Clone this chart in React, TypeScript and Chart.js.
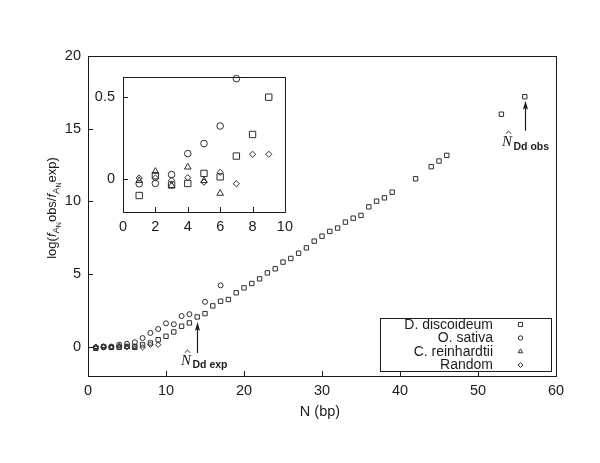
import React, { useEffect, useRef } from 'react';
import { Chart, registerables } from 'chart.js';

Chart.register(...registerables);

// ---------- data ----------
const seriesNames = ['D. discoideum', 'O. sativa', 'C. reinhardtii', 'Random'];

const ddN = [1, 2, 3, 4, 5, 6, 7, 8, 9, 10, 11, 12, 13, 14, 15, 16, 17, 18, 19, 20, 21, 22, 23, 24, 25, 26, 27, 28, 29, 30, 31, 32, 33, 34, 35, 36, 37, 38, 39, 42, 44, 45, 46, 53, 56];
const ddVal = [-0.1, 0.02, -0.036, -0.027, 0.034, 0.013, 0.139, 0.27, 0.496, 0.73, 1.03, 1.42, 1.65, 2.06, 2.29, 2.82, 3.14, 3.26, 3.72, 4.06, 4.36, 4.68, 5.09, 5.37, 5.83, 6.08, 6.44, 6.81, 7.27, 7.61, 7.94, 8.17, 8.58, 8.85, 9.04, 9.63, 10.02, 10.25, 10.64, 11.56, 12.39, 12.78, 13.17, 16.0, 17.2];

const osN = [1, 2, 3, 4, 5, 6, 7, 8, 9, 10, 11, 12, 13, 15, 17];
const osVal = [-0.029, -0.027, 0.027, 0.154, 0.215, 0.321, 0.608, 0.96, 1.23, 1.62, 1.56, 2.12, 2.25, 3.1, 4.23];

const crN = [1, 2, 3, 4, 5, 6];
const crVal = [-0.01, 0.046, -0.04, 0.072, -0.01, -0.087];

const rndN = [1, 2, 3, 4, 5, 6, 7, 8, 9];
const rndVal = [0.006, 0.006, -0.008, 0.008, -0.019, 0.04, -0.029, 0.15, 0.15];

const mainXTicks = [0, 10, 20, 30, 40, 50, 60];
const mainYTicks = [0, 5, 10, 15, 20];
const insetXTicks = [0, 2, 4, 6, 8, 10];
const insetYTicks = [0, 0.5];

const expIndexN = 14; // N̂ Dd exp
const obsIndexN = 56; // N̂ Dd obs

// ---------- helpers ----------
const INK = '#1c1c1c';
const MARK = '#2e2e2e';
const SANS = '"Liberation Sans", Arial, Helvetica, sans-serif';
const SERIF = '"Liberation Serif", "Times New Roman", serif';

const pts = (ns: number[], vs: number[], maxN = Infinity) =>
  ns.map((n, i) => ({ x: n, y: vs[i] })).filter((p) => p.x <= maxN);

const styles = ['rect', 'circle', 'triangle', 'rectRot'];

function drawMarker(ctx: CanvasRenderingContext2D, style: string, x: number, y: number, r: number) {
  ctx.beginPath();
  if (style === 'rect') {
    const s = r * Math.SQRT1_2;
    ctx.rect(x - s, y - s, 2 * s, 2 * s);
  } else if (style === 'circle') {
    ctx.arc(x, y, r, 0, Math.PI * 2);
  } else if (style === 'triangle') {
    ctx.moveTo(x, y - r);
    ctx.lineTo(x + r * 0.866, y + r * 0.5);
    ctx.lineTo(x - r * 0.866, y + r * 0.5);
    ctx.closePath();
  } else {
    ctx.moveTo(x, y - r);
    ctx.lineTo(x + r, y);
    ctx.lineTo(x, y + r);
    ctx.lineTo(x - r, y);
    ctx.closePath();
  }
  ctx.stroke();
}

function frameAndTicks(chart: any, xt: number[], yt: number[], len: number) {
  const { ctx, chartArea: a, scales } = chart;
  ctx.save();
  ctx.strokeStyle = INK;
  ctx.lineWidth = 1;
  ctx.strokeRect(Math.round(a.left) + 0.5, Math.round(a.top) + 0.5, Math.round(a.right - a.left), Math.round(a.bottom - a.top));
  ctx.beginPath();
  xt.forEach((v) => {
    const px = Math.round(scales.x.getPixelForValue(v)) + 0.5;
    ctx.moveTo(px, a.bottom);
    ctx.lineTo(px, a.bottom - len);
  });
  yt.forEach((v) => {
    const py = Math.round(scales.y.getPixelForValue(v)) + 0.5;
    ctx.moveTo(a.left, py);
    ctx.lineTo(a.left + len, py);
  });
  ctx.stroke();
  ctx.restore();
}

type Seg = { t: string; font: string; dy: number };
function segWidth(ctx: CanvasRenderingContext2D, segs: Seg[]) {
  let w = 0;
  for (const s of segs) {
    ctx.font = s.font;
    w += ctx.measureText(s.t).width;
  }
  return w;
}
function drawSegs(ctx: CanvasRenderingContext2D, segs: Seg[], x: number, y: number) {
  let cx = x;
  for (const s of segs) {
    ctx.font = s.font;
    ctx.fillText(s.t, cx, y + s.dy);
    cx += ctx.measureText(s.t).width;
  }
}

function hatN(ctx: CanvasRenderingContext2D, x: number, base: number, size: number) {
  ctx.font = `italic ${size}px ${SERIF}`;
  ctx.fillText('N', x, base);
  const w = ctx.measureText('N').width;
  const cx = x + w / 2 + 1.5;
  const top = base - size * 0.66 - 5;
  ctx.beginPath();
  ctx.moveTo(cx - 2.6, top + 2.6);
  ctx.lineTo(cx, top);
  ctx.lineTo(cx + 2.6, top + 2.6);
  ctx.lineWidth = 0.9;
  ctx.stroke();
  return w;
}

function upArrow(ctx: CanvasRenderingContext2D, x: number, tail: number, tip: number) {
  ctx.beginPath();
  ctx.lineWidth = 1.2;
  ctx.moveTo(x, tail);
  ctx.lineTo(x, tip + 6);
  ctx.stroke();
  ctx.beginPath();
  ctx.moveTo(x, tip);
  ctx.lineTo(x - 2.6, tip + 9);
  ctx.lineTo(x, tip + 7);
  ctx.lineTo(x + 2.6, tip + 9);
  ctx.closePath();
  ctx.fill();
}

const whiteBg = {
  id: 'whiteBg',
  beforeDraw(chart: any) {
    const { ctx, width, height } = chart;
    ctx.save();
    ctx.fillStyle = '#ffffff';
    ctx.fillRect(0, 0, width, height);
    ctx.restore();
  },
};

const mainDecor = {
  id: 'mainDecor',
  afterDraw(chart: any) {
    const { ctx, scales } = chart;
    frameAndTicks(chart, mainXTicks.slice(1, -1), mainYTicks.slice(0, -1), 5);
    ctx.save();
    ctx.fillStyle = INK;
    ctx.strokeStyle = INK;
    ctx.textBaseline = 'alphabetic';

    // x title
    ctx.font = `14.5px ${SANS}`;
    ctx.textAlign = 'center';
    ctx.fillText('N (bp)', 320, 416);

    // y title (rotated)
    ctx.save();
    ctx.translate(51, 208);
    ctx.rotate(-Math.PI / 2);
    ctx.textAlign = 'left';
    const big = `13px ${SANS}`;
    const it = `italic 13px ${SANS}`;
    const sub = `9.5px ${SANS}`;
    const sub2 = `7px ${SANS}`;
    const segs: Seg[] = [
      { t: 'log(', font: big, dy: 0 },
      { t: 'f', font: it, dy: 0 },
      { t: 'A', font: sub, dy: 3 },
      { t: 'N', font: sub2, dy: 5 },
      { t: 'obs/', font: big, dy: 0 },
      { t: 'f', font: it, dy: 0 },
      { t: 'A', font: sub, dy: 3 },
      { t: 'N', font: sub2, dy: 5 },
      { t: 'exp)', font: big, dy: 0 },
    ];
    const w = segWidth(ctx, segs);
    drawSegs(ctx, segs, -w / 2, 5);
    ctx.restore();

    // annotations
    const xs = scales.x, ys = scales.y;
    const ei = ddN.indexOf(expIndexN);
    const ex = Math.round(xs.getPixelForValue(expIndexN)) + 0.5;
    const etip = ys.getPixelForValue(ddVal[ei]) + 5;
    upArrow(ctx, ex, etip + 31, etip);
    const oi = ddN.indexOf(obsIndexN);
    const ox = Math.round(xs.getPixelForValue(obsIndexN)) + 0.5;
    const otip = ys.getPixelForValue(ddVal[oi]) + 4;
    upArrow(ctx, ox, otip + 30, otip);

    ctx.textAlign = 'left';
    let nw = hatN(ctx, 181, 365, 15);
    ctx.font = `bold 10.5px ${SANS}`;
    ctx.fillText('Dd exp', 181 + nw + 1.5, 368);
    nw = hatN(ctx, 502, 146, 15);
    ctx.font = `bold 10.5px ${SANS}`;
    ctx.fillText('Dd obs', 502 + nw + 1.5, 149.5);

    // legend
    ctx.lineWidth = 1;
    ctx.strokeRect(380.5, 318.5, 171, 53);
    ctx.font = `14px ${SANS}`;
    ctx.textAlign = 'right';
    ctx.textBaseline = 'middle';
    const rows = [324.5, 338, 351.5, 365];
    const lr = [2.9, 2.2, 2.6, 2.5];
    seriesNames.forEach((n, i) => {
      ctx.fillStyle = INK;
      ctx.fillText(n, 493, rows[i] + 0.5);
      ctx.strokeStyle = MARK;
      ctx.lineWidth = 1;
      drawMarker(ctx, styles[i], 520.5, rows[i], lr[i]);
    });
    ctx.restore();
  },
};

const insetDecor = {
  id: 'insetDecor',
  afterDraw(chart: any) {
    frameAndTicks(chart, insetXTicks.slice(1, -1), insetYTicks, 5);
  },
};

function makeDatasets(maxN: number, radii: number[]) {
  const data = [pts(ddN, ddVal, maxN), pts(osN, osVal, maxN), pts(crN, crVal, maxN), pts(rndN, rndVal, maxN)];
  return seriesNames.map((name, i) => ({
    label: name,
    data: data[i],
    pointStyle: styles[i],
    pointRadius: radii[i],
    pointHoverRadius: radii[i],
    pointBorderWidth: 1,
    borderColor: MARK,
    backgroundColor: 'rgba(0,0,0,0)',
    showLine: false,
    clip: false,
  }));
}

function axisCommon(ticksArr: number[], min: number, max: number, pad: number, fit: (s: any) => void) {
  return {
    type: 'linear' as const,
    min,
    max,
    grid: { display: false, drawTicks: false, tickLength: 0 },
    border: { display: false },
    afterBuildTicks: (s: any) => {
      s.ticks = ticksArr.map((v) => ({ value: v }));
    },
    afterFit: fit,
    ticks: {
      padding: pad,
      color: INK,
      font: { family: SANS, size: 14.5 },
      autoSkip: false,
      maxRotation: 0,
      callback: (v: any) => String(v),
    },
  };
}

export default function App() {
  const mainRef = useRef<HTMLCanvasElement | null>(null);
  const insetRef = useRef<HTMLCanvasElement | null>(null);

  useEffect(() => {
    const main = new Chart(mainRef.current as HTMLCanvasElement, {
      type: 'scatter',
      data: { datasets: makeDatasets(Infinity, [3.1, 2.5, 2.7, 2.7]) as any },
      options: {
        responsive: false,
        animation: false,
        devicePixelRatio: 1,
        layout: { padding: { left: 0, top: 56, right: 44, bottom: 0 } },
        plugins: { legend: { display: false }, tooltip: { enabled: false }, title: { display: false } },
        scales: {
          x: axisCommon(mainXTicks, 0, 60, 6, (s: any) => { s.height = 87; }) as any,
          y: axisCommon(mainYTicks, -2, 20, 7, (s: any) => { s.width = 88; }) as any,
        },
      },
      plugins: [whiteBg, mainDecor],
    });

    const inset = new Chart(insetRef.current as HTMLCanvasElement, {
      type: 'scatter',
      data: { datasets: makeDatasets(10, [4.5, 3.3, 3.8, 3.1]) as any },
      options: {
        responsive: false,
        animation: false,
        devicePixelRatio: 1,
        layout: { padding: { left: 0, top: 10, right: 13, bottom: 0 } },
        plugins: { legend: { display: false }, tooltip: { enabled: false }, title: { display: false } },
        scales: {
          x: axisCommon(insetXTicks, 0, 10, 6, (s: any) => { s.height = 28; }) as any,
          y: axisCommon(insetYTicks, -0.2, 0.62, 8, (s: any) => { s.width = 39; }) as any,
        },
      },
      plugins: [insetDecor],
    });

    return () => {
      main.destroy();
      inset.destroy();
    };
  }, []);

  return (
    <div style={{ position: 'absolute', left: 0, top: 0, width: 600, height: 463, background: '#fff' }}>
      <canvas ref={mainRef} width={600} height={463} style={{ position: 'absolute', left: 0, top: 0, width: 600, height: 463 }} />
      <canvas ref={insetRef} width={215} height={180} style={{ position: 'absolute', left: 84, top: 60, width: 215, height: 180 }} />
    </div>
  );
}
